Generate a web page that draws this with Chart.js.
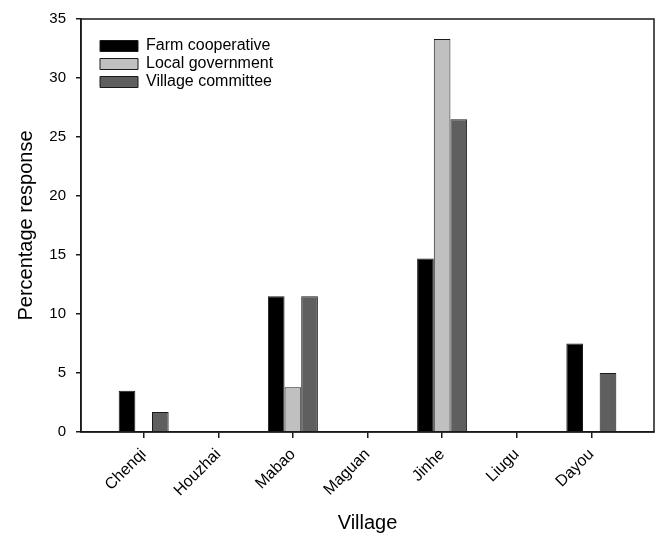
<!DOCTYPE html>
<html>
<head>
<meta charset="utf-8">
<script src="https://cdn.jsdelivr.net/npm/chart.js@4/dist/chart.umd.min.js"></script>
<style>
  html, body { margin: 0; padding: 0; background: #fff; }
  #wrap { width: 661px; height: 536px; }
</style>
</head>
<body>
<div id="wrap"><canvas id="chart" width="661" height="536"></canvas></div>
<script>
// villages along the x axis
var villages = ["Chenqi", "Houzhai", "Mabao", "Maguan", "Jinhe", "Liugu", "Dayou"];

// percentage response per village
var farmCoop   = [3.5, 0, 11.5, 0, 14.7, 0, 7.5];
var localGov   = [0,   0, 3.8,  0, 33.3, 0, 0];
var villageCom = [1.7, 0, 11.5, 0, 26.5, 0, 5.0];

var yTicks = [0, 5, 10, 15, 20, 25, 30, 35];

var FONT = "'Liberation Sans', Arial, sans-serif";
Chart.defaults.color = "#000";
Chart.defaults.font.family = FONT;

/* bars need x positions for the linear axis */
function points(arr) {
    return arr.map((v, i) => ({ x: i, y: v }));
}

/* box round the plot, drawn over the bars */
var frame = {
    id: "frame",
    afterDatasetsDraw(chart) {
        var a = chart.chartArea, ctx = chart.ctx;
        ctx.save();
        ctx.strokeStyle = "#1a1a1a";
        ctx.lineWidth = 1.5;
        ctx.strokeRect(a.left, a.top, a.right - a.left, a.bottom - a.top);
        ctx.restore();
    }
};

/* push the legend a little into the plot */
var moveLegend = {
    id: "moveLegend",
    afterLayout(chart) {
        chart.legend.left += 17;
        chart.legend.top += 18;
    }
};

new Chart(document.getElementById("chart").getContext("2d"), {
    type: "bar",
    data: {
        datasets: [
            { label: "Farm cooperative", data: points(farmCoop), backgroundColor: "#000000" },
            { label: "Local government", data: points(localGov), backgroundColor: "#c0c0c0" },
            { label: "Village committee", data: points(villageCom), backgroundColor: "#5f5f5f" }
        ]
    },
    options: {
        responsive: false,
        animation: false,
        layout: { padding: { top: 18, right: 7, left: 0, bottom: 0 } },
        datasets: {
            bar: {
                borderColor: "#1a1a1a",
                borderWidth: 1,
                categoryPercentage: 0.67,
                barPercentage: 1.0
            }
        },
        plugins: {
            tooltip: { enabled: false },
            legend: {
                position: "chartArea",
                align: "start",
                title: { display: true, text: "", font: { size: 15 }, padding: 0 },
                labels: {
                    boxWidth: 38,
                    boxHeight: 11,
                    padding: 2,
                    color: "#000",
                    font: { size: 16, family: FONT }
                }
            }
        },
        scales: {
            x: {
                type: "linear",
                offset: false,
                min: -0.84,
                max: 6.84,
                afterFit: s => { s.height = 104; },
                afterBuildTicks: s => { s.ticks = villages.map((v, i) => ({ value: i })); },
                grid: { offset: false, drawOnChartArea: false, drawTicks: true, tickLength: 6, color: "#1a1a1a", lineWidth: 1.5 },
                border: { display: true, color: "#1a1a1a", width: 1.5 },
                ticks: {
                    callback: value => villages[value],
                    minRotation: 45,
                    maxRotation: 45,
                    padding: 7,
                    autoSkip: false,
                    font: { size: 16, family: FONT }
                },
                title: {
                    display: true,
                    text: "Village",
                    font: { size: 20, family: FONT },
                    padding: { top: 0, bottom: 1 }
                }
            },
            y: {
                min: 0,
                max: 35,
                afterFit: s => { s.width = 81; },
                afterBuildTicks: s => { s.ticks = yTicks.map(v => ({ value: v })); },
                grid: { drawOnChartArea: false, drawTicks: true, tickLength: 5, color: "#1a1a1a", lineWidth: 1.5 },
                border: { display: true, color: "#1a1a1a", width: 1.5 },
                ticks: {
                    padding: 10,
                    font: { size: 15, family: FONT }
                },
                title: {
                    display: true,
                    text: "Percentage response",
                    font: { size: 20, family: FONT },
                    padding: { top: 14, bottom: 0 }
                }
            }
        }
    },
    plugins: [frame, moveLegend]
});
</script>
</body>
</html>
